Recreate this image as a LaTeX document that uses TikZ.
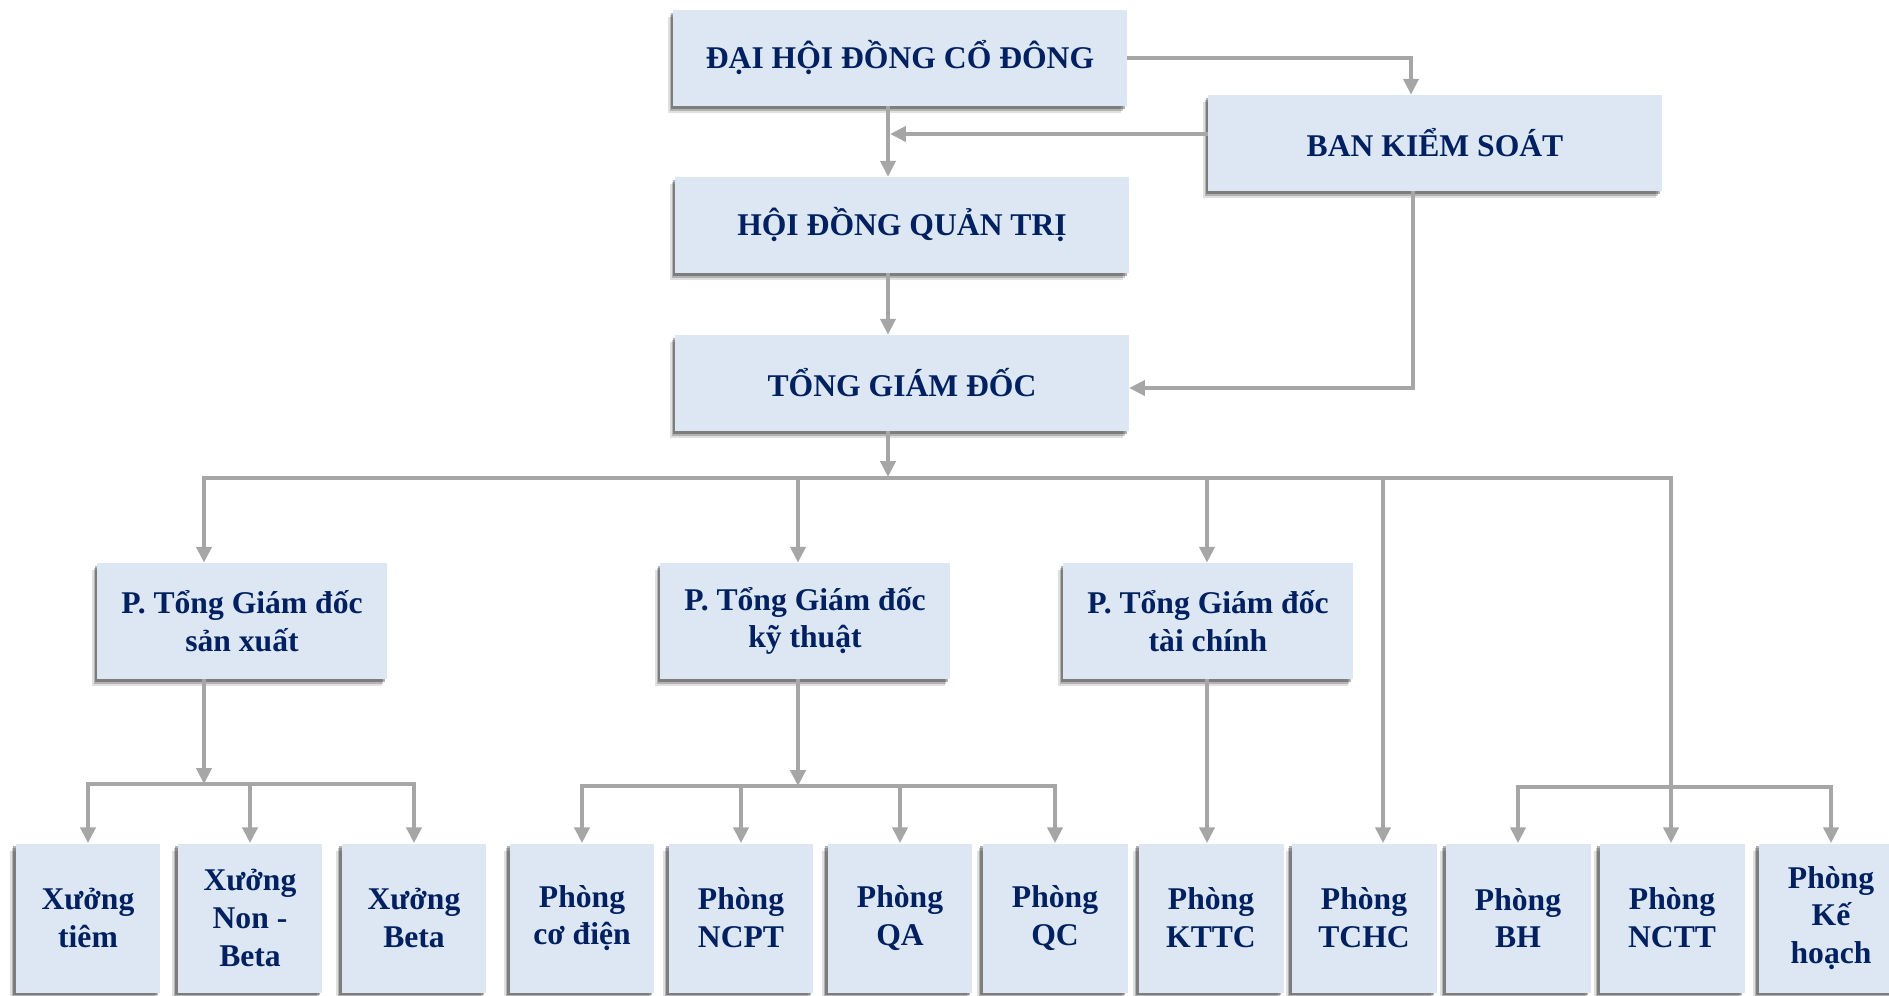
\documentclass[tikz,border=0pt]{standalone}
\usepackage{fontspec}
\setmainfont{Liberation Serif}
\usepackage{xcolor}
\definecolor{mBoxFill}{HTML}{DCE7F3}
\definecolor{mNavy}{HTML}{002060}
\definecolor{mLineGray}{HTML}{A6A6A6}
\usetikzlibrary{arrows.meta,calc,shadows}

\begin{document}
\begin{tikzpicture}[x=0.02cm, y=-0.02cm, font=\fontsize{18}{21.5}\selectfont\bfseries,
  orgbox/.style={fill=mBoxFill, text=mNavy, align=center, inner sep=2pt,
    drop shadow={shadow xshift=-3pt, shadow yshift=-4pt, fill=black, opacity=0.12},
    drop shadow={shadow xshift=-2pt, shadow yshift=-2.8pt, fill=black, opacity=0.2},
    drop shadow={shadow xshift=-1.2pt, shadow yshift=-1.6pt, fill=black, opacity=0.3}},
  topbox/.style={orgbox, minimum width=9.07cm, minimum height=1.92cm},
  midbox/.style={orgbox, minimum width=5.8cm, minimum height=2.32cm},
  lowbox/.style={orgbox, minimum width=2.9cm, minimum height=2.98cm},
  link/.style={draw=mLineGray, line width=2.3pt},
  conn/.style={link, -{Triangle[width=8.5pt, length=9pt]}}]
\useasboundingbox (0,0) rectangle (1889,995);

% board level
\node[topbox] (dhdcd) at (900,58) {ĐẠI HỘI ĐỒNG CỔ ĐÔNG};
\node[topbox] (bks) at (1435,143) {BAN KIỂM SOÁT};
\node[topbox] (hdqt) at (902,225) {HỘI ĐỒNG QUẢN TRỊ};
\node[topbox] (tgd) at (902,383) {TỔNG GIÁM ĐỐC};

% deputy directors
\node[midbox] (pgdsx) at (242,621) {P. Tổng Giám đốc\\ sản xuất};
\node[midbox] (pgdkt) at (805,621) {P. Tổng Giám đốc\\ kỹ thuật};
\node[midbox] (pgdtc) at (1208,621) {P. Tổng Giám đốc\\ tài chính};

% workshops and departments
\node[lowbox] (xtiem) at (88,918) {Xưởng\\ tiêm};
\node[lowbox] (xnonbeta) at (250,918) {Xưởng\\ Non -\\ Beta};
\node[lowbox] (xbeta) at (414,918) {Xưởng\\ Beta};
\node[lowbox] (pcodien) at (582,918) {Phòng\\ cơ điện};
\node[lowbox] (pncpt) at (741,918) {Phòng\\ NCPT};
\node[lowbox] (pqa) at (900,918) {Phòng\\ QA};
\node[lowbox] (pqc) at (1055,918) {Phòng\\ QC};
\node[lowbox] (pkttc) at (1211,918) {Phòng\\ KTTC};
\node[lowbox] (ptchc) at (1364,918) {Phòng\\ TCHC};
\node[lowbox] (pbh) at (1518,918) {Phòng\\ BH};
\node[lowbox] (pnctt) at (1672,918) {Phòng\\ NCTT};
\node[lowbox] (pkh) at (1831,918) {Phòng\\ Kế\\ hoạch};

% junction points
\coordinate (spine) at (888,0);
\coordinate (bkstap) at (890,134);
\coordinate (bksturn) at (1413,388);
\coordinate (busa) at (204,478);
\coordinate (busb) at (798,478);
\coordinate (busc) at (1207,478);
\coordinate (busd) at (1383,478);
\coordinate (buse) at (1671,478);
\coordinate (sxbus) at (204,784);
\coordinate (ktbus) at (798,786);
\coordinate (bhbus) at (1671,787);

% upper links
\draw[conn] (dhdcd.east) -| ($(bks.north)+(-24,0)$);
\draw[conn] (dhdcd.south -| spine) -- (hdqt.north -| spine);
\draw[conn] (bks.west |- bkstap) -- (bkstap);
\draw[conn] (hdqt.south -| spine) -- (tgd.north -| spine);
\draw[conn] (bks.south -| bksturn) -- (bksturn) -- (tgd.east |- bksturn);
\draw[conn] (tgd.south -| spine) -- ($(spine |- busa)+(0,-1)$);

% main bus
\draw[conn] (spine |- busa) -| (busa |- pgdsx.north);
\draw[conn] (spine |- busa) -| (buse |- pnctt.north);
\draw[conn] (busb) -- (busb |- pgdkt.north);
\draw[conn] (busc) -- (busc |- pgdtc.north);
\draw[conn] (busd) -- (busd |- ptchc.north);

% production branch
\draw[conn] (pgdsx.south -| sxbus) -- (sxbus);
\draw[conn] (sxbus) -| (xtiem.north);
\draw[conn] (sxbus) -| (xbeta.north);
\draw[conn] (xnonbeta.north |- sxbus) -- (xnonbeta.north);

% technical branch
\draw[conn] (pgdkt.south -| ktbus) -- (ktbus);
\draw[conn] (ktbus) -| (pcodien.north);
\draw[conn] (ktbus) -| (pqc.north);
\draw[conn] (pncpt.north |- ktbus) -- (pncpt.north);
\draw[conn] (pqa.north |- ktbus) -- (pqa.north);

% finance and sales
\draw[conn] (pgdtc.south -| busc) -- (busc |- pkttc.north);
\draw[conn] (bhbus) -| (pbh.north);
\draw[conn] (bhbus) -| (pkh.north);
\end{tikzpicture}
\end{document}
